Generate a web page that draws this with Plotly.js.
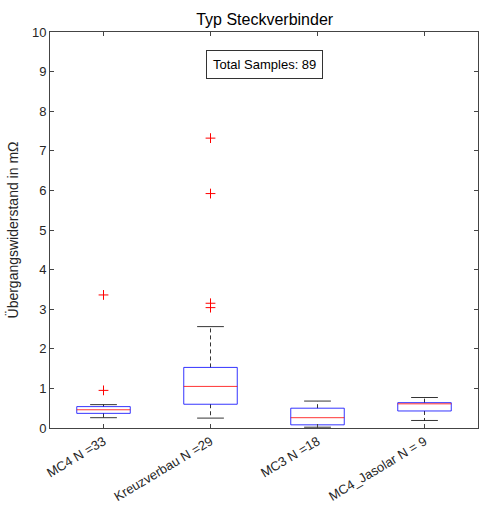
<!DOCTYPE html>
<html><head><meta charset="utf-8">
<script src="https://cdn.plot.ly/plotly-3.0.1.min.js"></script>
<style>html,body{margin:0;padding:0;background:#fff}#chart{width:480px;height:506px}</style>
</head><body><div id="chart"></div>
<script>
const categories = ["MC4 N =33", "Kreuzverbau N =29", "MC3 N =18", "MC4_Jasolar N = 9"];
const lowerWhisker = [0.26, 0.25, 0.02, 0.19];
const q1 = [0.37, 0.60, 0.08, 0.43];
const median = [0.46, 1.05, 0.26, 0.61];
const q3 = [0.54, 1.53, 0.50, 0.64];
const upperWhisker = [0.59, 2.56, 0.68, 0.77];
const outlierGroup = [1, 1, 2, 2, 2, 2];
const outlierValue = [0.95, 3.36, 3.04, 3.15, 5.92, 7.32];
const yTicks = [0,1,2,3,4,5,6,7,8,9,10];

const hw = 0.25, cw = 0.125;
const traces = [];
const boxX = [], boxY = [], medX = [], medY = [], whX = [], whY = [], capX = [], capY = [];
categories.forEach((c, k) => {
  const p = k + 1;
  boxX.push(p-hw, p+hw, p+hw, p-hw, p-hw, null);
  boxY.push(q1[k], q1[k], q3[k], q3[k], q1[k], null);
  medX.push(p-hw, p+hw, null); medY.push(median[k], median[k], null);
  whX.push(p, p, null, p, p, null);
  whY.push(q3[k], upperWhisker[k], null, q1[k], lowerWhisker[k], null);
  capX.push(p-cw, p+cw, null, p-cw, p+cw, null);
  capY.push(upperWhisker[k], upperWhisker[k], null, lowerWhisker[k], lowerWhisker[k], null);
});
traces.push({x: whX, y: whY, mode: 'lines', line: {color: '#000', width: 0.8, dash: '4px,3px'}, hoverinfo: 'skip'});
traces.push({x: capX, y: capY, mode: 'lines', line: {color: '#000', width: 0.8}, hoverinfo: 'skip'});
traces.push({x: boxX, y: boxY, mode: 'lines', line: {color: '#0000ff', width: 0.8}, hoverinfo: 'skip'});
traces.push({x: medX, y: medY, mode: 'lines', line: {color: '#ff0000', width: 0.8}, hoverinfo: 'skip'});
traces.push({x: outlierGroup, y: outlierValue, mode: 'markers',
  marker: {symbol: 'cross-thin-open', size: 7, color: '#ff0000', line: {color: '#ff0000', width: 1}}, hoverinfo: 'skip'});

const font = {family: 'Liberation Sans, Arial, Helvetica, sans-serif', color: '#262626', size: 13};
const layout = {
  width: 480, height: 506,
  margin: {l: 50, r: 2, t: 32, b: 78},
  showlegend: false,
  paper_bgcolor: '#fff', plot_bgcolor: '#fff',
  font: font,
  title: {text: 'Typ Steckverbinder', font: {family: font.family, size: 16, color: '#000'}, x: 0.5514, xanchor: 'center', y: 0.962, yanchor: 'middle'},
  xaxis: {range: [0.5, 4.5], tickvals: [1,2,3,4], ticktext: categories, tickangle: -31,
    showgrid: false, zeroline: false, showline: true, linecolor: '#444', linewidth: 1, mirror: 'ticks',
    ticks: 'inside', ticklen: 4, tickcolor: '#444', tickfont: {size: 13, color: '#262626', family: font.family}},
  yaxis: {range: [0, 10], tickvals: yTicks, showgrid: false, zeroline: false, showline: true,
    linecolor: '#444', linewidth: 1, mirror: 'ticks', ticks: 'inside', ticklen: 4, tickcolor: '#444',
    tickfont: {size: 13, color: '#262626', family: font.family},
    title: {text: 'Übergangswiderstand in mΩ', font: {size: 14, color: '#262626', family: font.family}, standoff: 10}},
  annotations: [{xref: 'paper', yref: 'paper', x: 0.5, y: 0.917, xanchor: 'center', yanchor: 'middle',
    text: 'Total Samples: 89', showarrow: false, font: {size: 13, color: '#000', family: font.family},
    bordercolor: '#333', borderwidth: 1, borderpad: 6, bgcolor: '#fff'}]
};
Plotly.newPlot('chart', traces, layout, {displayModeBar: false, staticPlot: true});
</script></body></html>
